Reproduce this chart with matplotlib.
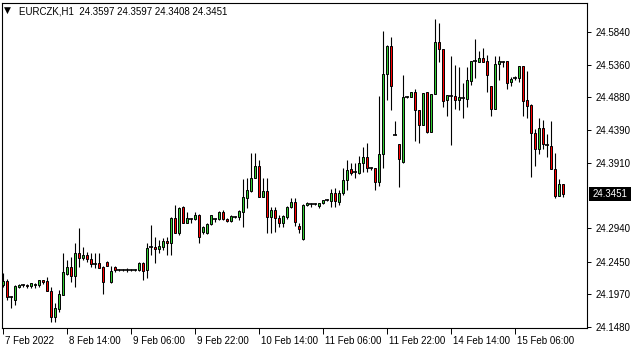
import matplotlib
matplotlib.use('Agg')
import matplotlib.pyplot as plt
import numpy as np
from matplotlib.transforms import ScaledTranslation, blended_transform_factory
from matplotlib.patches import Rectangle

symbol = 'EURCZK,H1'
header_values = '24.3597 24.3597 24.3408 24.3451'

opens = [24.2105, 24.2164, 24.1927, 24.1883, 24.2075, 24.2105, 24.2105, 24.2090, 24.2105, 24.2105,
         24.2179, 24.2164, 24.2016, 24.1632, 24.1750, 24.1957, 24.2267, 24.2371, 24.2238, 24.2578,
         24.2504, 24.2548, 24.2489, 24.2415, 24.2430, 24.2371, 24.2445, 24.2149, 24.2371, 24.2327,
         24.2327, 24.2327, 24.2327, 24.2327, 24.2327, 24.2430, 24.2327, 24.2667, 24.2667, 24.2637,
         24.2667, 24.2755, 24.2726, 24.3095, 24.2873, 24.3258, 24.3021, 24.3080, 24.3080, 24.3139,
         24.2888, 24.2873, 24.3006, 24.3080, 24.3080, 24.3184, 24.3080, 24.3051, 24.3110, 24.3110,
         24.3184, 24.3391, 24.3494, 24.3686, 24.3864, 24.3406, 24.3494, 24.3110, 24.3213, 24.3095,
         24.3021, 24.3110, 24.3258, 24.3331, 24.2977, 24.2785, 24.3287, 24.3302, 24.3302, 24.3272,
         24.3317, 24.3361, 24.3346, 24.3465, 24.3331, 24.3465, 24.3657, 24.3819, 24.3775, 24.3760,
         24.3908, 24.3997, 24.3834, 24.3834, 24.3627, 24.4041, 24.5223, 24.5637, 24.4321, 24.4189,
         24.3923, 24.4883, 24.4883, 24.4957, 24.4691, 24.4470, 24.4957, 24.4366, 24.4928, 24.5696,
         24.5593, 24.4839, 24.4898, 24.4898, 24.4839, 24.4869, 24.4854, 24.5120, 24.5415, 24.5401,
         24.5460, 24.5415, 24.5046, 24.4706, 24.5371, 24.5401, 24.5415, 24.5105, 24.5164, 24.5164,
         24.5342, 24.4839, 24.4765, 24.4351, 24.4115, 24.4425, 24.4174, 24.4159, 24.3819, 24.3421,
         24.3597]
highs = [24.2282, 24.2194, 24.1942, 24.2105, 24.2120, 24.2120, 24.2120, 24.2134, 24.2134, 24.2179,
         24.2185, 24.2223, 24.2075, 24.1839, 24.2031, 24.2578, 24.2474, 24.2519, 24.2726, 24.2947,
         24.2667, 24.2593, 24.2578, 24.2578, 24.2578, 24.2386, 24.2460, 24.2386, 24.2386, 24.2341,
         24.2341, 24.2356, 24.2341, 24.2341, 24.2445, 24.2445, 24.2726, 24.2992, 24.2814, 24.2770,
         24.2799, 24.2814, 24.3110, 24.3287, 24.3258, 24.3265, 24.3184, 24.3095, 24.3184, 24.3154,
         24.2977, 24.3021, 24.3145, 24.3095, 24.3198, 24.3213, 24.3095, 24.3139, 24.3124, 24.3213,
         24.3671, 24.3686, 24.4056, 24.4056, 24.3952, 24.3686, 24.3686, 24.3258, 24.3258, 24.3139,
         24.3139, 24.3265, 24.3391, 24.3391, 24.3021, 24.3302, 24.3331, 24.3317, 24.3317, 24.3317,
         24.3361, 24.3376, 24.3524, 24.3538, 24.3509, 24.3834, 24.3952, 24.3908, 24.3908, 24.4011,
         24.4144, 24.4204, 24.3849, 24.3840, 24.4898, 24.5859, 24.5645, 24.5770, 24.4529, 24.4195,
         24.5209, 24.4898, 24.4960, 24.5002, 24.4695, 24.4945, 24.4962, 24.4932, 24.6036, 24.5977,
         24.5598, 24.4920, 24.5489, 24.5356, 24.5327, 24.5090, 24.5327, 24.5420, 24.5741, 24.5563,
         24.5608, 24.5504, 24.5050, 24.5489, 24.5489, 24.5415, 24.5420, 24.5179, 24.5194, 24.5345,
         24.5347, 24.5268, 24.4780, 24.4410, 24.4573, 24.4543, 24.4336, 24.4529, 24.4056, 24.3671,
         24.3597]
lows = [24.2075, 24.1883, 24.1765, 24.1809, 24.2060, 24.2075, 24.2060, 24.2060, 24.2060, 24.2075,
        24.2120, 24.2010, 24.1558, 24.1558, 24.1706, 24.1950, 24.2253, 24.2149, 24.2075, 24.2371,
        24.2474, 24.2445, 24.2371, 24.2356, 24.2356, 24.1972, 24.2386, 24.2134, 24.2297, 24.2312,
        24.2312, 24.2297, 24.2312, 24.2312, 24.2312, 24.2179, 24.2208, 24.2548, 24.2430, 24.2578,
        24.2622, 24.2548, 24.2548, 24.2873, 24.2844, 24.3021, 24.3015, 24.3021, 24.3065, 24.2726,
        24.2858, 24.2858, 24.2992, 24.3036, 24.3065, 24.3065, 24.3036, 24.3036, 24.3095, 24.3065,
        24.2962, 24.3243, 24.3479, 24.3680, 24.3400, 24.3400, 24.2873, 24.2873, 24.2888, 24.2962,
        24.2962, 24.3080, 24.3243, 24.2977, 24.2873, 24.2770, 24.3272, 24.3258, 24.3287, 24.3243,
        24.3302, 24.3346, 24.3258, 24.3258, 24.3287, 24.3435, 24.3509, 24.3731, 24.3686, 24.3745,
        24.3775, 24.3775, 24.3804, 24.3509, 24.3568, 24.3834, 24.4839, 24.4691, 24.4315, 24.3553,
        24.3915, 24.4869, 24.4880, 24.4233, 24.4204, 24.4465, 24.4351, 24.4360, 24.4925, 24.5401,
        24.4736, 24.4602, 24.4174, 24.4706, 24.4691, 24.4573, 24.4736, 24.5061, 24.5164, 24.5395,
        24.5401, 24.4957, 24.4602, 24.4700, 24.5135, 24.5327, 24.5002, 24.5046, 24.5135, 24.5105,
        24.4602, 24.4573, 24.3701, 24.3864, 24.4041, 24.4115, 24.3997, 24.3819, 24.3391, 24.3415,
        24.3408]
closes = [24.2164, 24.1927, 24.1930, 24.2090, 24.2105, 24.2108, 24.2090, 24.2134, 24.2120, 24.2179,
          24.2149, 24.2016, 24.1632, 24.1765, 24.1972, 24.2297, 24.2371, 24.2238, 24.2578, 24.2504,
          24.2548, 24.2489, 24.2415, 24.2418, 24.2360, 24.2149, 24.2390, 24.2312, 24.2327, 24.2327,
          24.2329, 24.2327, 24.2329, 24.2327, 24.2430, 24.2312, 24.2652, 24.2670, 24.2637, 24.2681,
          24.2755, 24.2726, 24.3095, 24.2880, 24.3250, 24.3025, 24.3095, 24.3083, 24.3139, 24.2814,
          24.2962, 24.3006, 24.3139, 24.3083, 24.3184, 24.3080, 24.3051, 24.3124, 24.3113, 24.3198,
          24.3406, 24.3509, 24.3686, 24.3864, 24.3406, 24.3494, 24.3110, 24.3213, 24.3095, 24.3021,
          24.3124, 24.3258, 24.3331, 24.3036, 24.2932, 24.3287, 24.3317, 24.3299, 24.3305, 24.3315,
          24.3358, 24.3363, 24.3465, 24.3350, 24.3465, 24.3657, 24.3804, 24.3760, 24.3772, 24.3908,
          24.3997, 24.3834, 24.3831, 24.3627, 24.4041, 24.5223, 24.5637, 24.5046, 24.4318, 24.3967,
          24.4883, 24.4886, 24.4957, 24.4691, 24.4470, 24.4942, 24.4366, 24.4928, 24.5696, 24.5593,
          24.4824, 24.4913, 24.4895, 24.4839, 24.4883, 24.4866, 24.5135, 24.5415, 24.5418, 24.5460,
          24.5405, 24.5209, 24.4706, 24.5371, 24.5415, 24.5398, 24.5090, 24.5149, 24.5167, 24.5342,
          24.4824, 24.4750, 24.4351, 24.4115, 24.4425, 24.4189, 24.4170, 24.3825, 24.3421, 24.3597,
          24.3451]

time_tick_bars = [0, 16, 32, 48, 64, 80, 96, 112, 128]
time_tick_labels = ['7 Feb 2022', '8 Feb 14:00', '9 Feb 06:00', '9 Feb 22:00', '10 Feb 14:00',
                    '11 Feb 06:00', '11 Feb 22:00', '14 Feb 14:00', '15 Feb 06:00']
price_ticks = [24.1480, 24.1970, 24.2450, 24.2940, 24.3910, 24.4390, 24.4880, 24.5360, 24.5840]
last_price = 24.3451

FONT = 'Liberation Sans'
plt.rcParams['font.family'] = [FONT, 'DejaVu Sans']

W, H = 635, 352
fig = plt.figure(figsize=(W / 100, H / 100), dpi=100)
fig.patch.set_facecolor('white')
ax = fig.add_axes([2 / W, 1 - 328 / H, 585 / W, 325 / H])
ax.set_facecolor('white')

o = np.array(opens); h = np.array(highs); l = np.array(lows); c = np.array(closes)
x = np.arange(len(o))

ax.vlines(x, l, h, color='black', linewidth=0.8, zorder=2)
diff = c - o
body_bottom = np.minimum(o, c)
body_h = np.abs(diff)
colors = np.where(diff >= 0, '#32CD32', '#FF0000')
mask = body_h >= 0.0006
ax.bar(x[mask], body_h[mask], bottom=body_bottom[mask], width=0.72,
       color=colors[mask], edgecolor='black', linewidth=0.7, zorder=3)
ax.hlines(((o + c) / 2)[~mask], x[~mask] - 0.42, x[~mask] + 0.42,
          color='black', linewidth=1.2, zorder=3)

ax.set_xlim(-0.25, 146)
ax.set_ylim(24.1469, 24.6273)

for s in ax.spines.values():
    s.set_color('black')
    s.set_linewidth(0.8)

ax.yaxis.tick_right()
ax.set_yticks(price_ticks)
ax.set_yticklabels([f'{v:.4f}' for v in price_ticks])
ax.tick_params(axis='y', direction='out', length=3, width=0.7, labelsize=7, pad=3, colors='black')

ax.set_xticks(time_tick_bars)
ax.set_xticklabels(time_tick_labels)
ax.tick_params(axis='x', direction='out', length=4, width=0.7, labelsize=7, pad=2, colors='black')
off = ScaledTranslation(2 / 100, 0, fig.dpi_scale_trans)
for lab in ax.get_xticklabels():
    lab.set_horizontalalignment('left')
    lab.set_transform(lab.get_transform() + off)

# current price marker
bt = blended_transform_factory(fig.transFigure, ax.transData)
box_h = 14 * (24.6273 - 24.1469) / 325
ax.add_patch(Rectangle((589 / W, last_price - box_h / 2), 42 / W, box_h, transform=bt,
                       facecolor='black', edgecolor='none', clip_on=False, zorder=5))
ax.text(593 / W, last_price, f'{last_price:.4f}', transform=bt, color='white',
        fontsize=7, va='center', ha='left', zorder=6, clip_on=False)

fig.text(3.5 / W, 1 - 10.5 / H, '\u25BC', fontsize=6.5, va='center', ha='left',
         family=['DejaVu Sans'], color='black')
fig.text(19 / W, 1 - 11 / H, f'{symbol}  {header_values}', fontsize=7, va='center', ha='left',
         color='black')

fig.savefig('out.png', dpi=100, facecolor='white')
